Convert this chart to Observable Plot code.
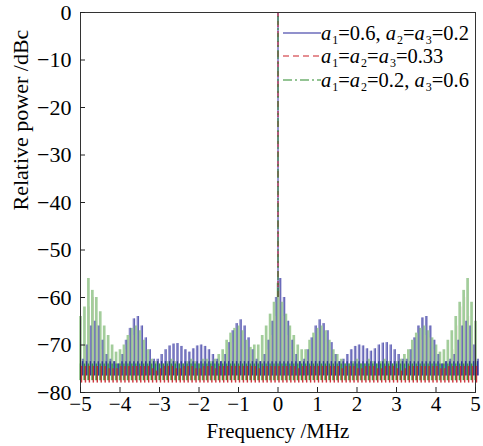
<!DOCTYPE html>
<html>
<head>
<meta charset="utf-8">
<script src="https://cdn.jsdelivr.net/npm/d3@7"></script>
<script src="https://cdn.jsdelivr.net/npm/@observablehq/plot@0.6"></script>
<style>
  html, body { margin: 0; padding: 0; background: #fff; }
  #wrap { position: relative; width: 483px; height: 446px; font-family: "Liberation Serif", serif; }
  #legend { position: absolute; left: 283px; top: 21px; font-family: "Liberation Serif", serif; font-size: 20.5px; line-height: 20px; color: #000; }
  #legend .row { display: flex; align-items: center; height: 23.5px; white-space: nowrap; }
  #legend svg { flex: none; }
  #legend sub { font-size: 12px; vertical-align: -4px; line-height: 0; margin-left: 1px; }
  #legend i { font-style: italic; }
</style>
</head>
<body>
<div id="wrap"></div>
<script>
// Frequency grid (MHz), one spectral line every 0.1 MHz
const freq = d3.range(101).map(i => +(-5 + i * 0.1).toFixed(1));
const yTicks = [0, -10, -20, -30, -40, -50, -60, -70, -80];
const xTicks = [-5, -4, -3, -2, -1, 0, 1, 2, 3, 4, 5];
const seriesNames = ["a1=0.6, a2=a3=0.2", "a1=a2=a3=0.33", "a1=a2=0.2, a3=0.6"];

// Carrier level at 0 MHz (dBc) for each series
const carrier = [0, 0, 0];

// Peak level of each sideband spectral line (dBc)
const blueTop = [
  -73, -70, -66, -65, -66, -69, -72, -73, -73.5, -74,
  -72, -69, -66.5, -64.5, -64, -66, -68.5, -71, -73, -73,
  -72, -71, -70.2, -69.8, -69.7, -70.3, -71, -71.5, -70.8, -70.2,
  -70, -70.3, -71, -72, -73, -73.5, -72, -69.5, -67, -65.5,
  -64.7, -66, -68.5, -71, -73, -73.5, -72, -69, -65, -60,
  -56,
  -60, -65, -69, -72, -73.5, -73, -71, -68.5, -66, -64.7,
  -65.5, -67, -69.5, -72, -73.5, -73, -72, -71, -70.3, -70,
  -70.2, -70.8, -71.3, -70.8, -70, -69.6, -69.5, -70, -71, -72,
  -73, -73, -71, -68.5, -66, -64.3, -64, -66, -69, -72,
  -74, -73.5, -73, -72, -69, -66, -65, -66, -70, -73
];
const redTop = [
  -74, -70, -62, -60, -66, -71, -74, -75, -75, -75,
  -74, -71, -68.5, -68, -69, -71, -73, -74.5, -75, -75.5,
  -75, -74.5, -74, -74.5, -75, -75, -74.5, -74, -74.5, -75,
  -75, -74.5, -74, -74.5, -75, -74.5, -73, -71, -69.5, -68.5,
  -68, -69, -71, -73, -74.5, -75, -73.5, -71, -68, -64,
  -58,
  -64, -68, -71, -73.5, -75, -74.5, -73, -71, -69, -68,
  -68.5, -69.5, -71, -73, -74.5, -75, -74.5, -74, -74.5, -75,
  -75, -74.5, -74, -74.5, -75, -75, -74.5, -74, -74.5, -75,
  -75.5, -75, -74.5, -73, -71, -69, -68, -68.5, -71, -74,
  -75, -75, -74, -71, -66, -62, -60, -64, -70, -74, -74
];
const greenTop = [
  -64, -62, -56, -58.5, -60, -63, -66, -68, -70, -71.5,
  -71, -70, -68, -66.5, -66, -67, -69, -71, -73, -73.5,
  -74, -74, -73.5, -73, -73.5, -74, -74, -73.5, -73, -73.5,
  -74, -73, -73, -73.5, -73, -72, -71, -69, -67.5, -66.5,
  -66, -67, -69, -70.5, -70, -70, -68, -66, -63.5, -61,
  -57,
  -61, -63.5, -66, -68, -70, -71, -71, -69, -67.5, -66.5,
  -66, -67, -69, -71, -72, -73, -74, -74, -73.5, -73,
  -74, -74, -73, -73.5, -74, -73.5, -73, -73.5, -74, -73.5,
  -73, -72, -71, -69, -67.5, -66.5, -66, -67, -68.5, -70,
  -71.5, -71, -69, -67, -64, -61, -58.5, -56, -61, -65, -65
];

// Noise floor of each series (dBc) and top of the dense noise band
const floors = [-76.5, -78, -77.5];
const bandTop = [-73.5, -74.5, -74];

const colorsPale = ["#8a8ac8", "#dba5a5", "#a3cd9b"];
const colorsDark = ["#24249a", "#cc1f26", "#2a8a2a"];
const widthsPale = [2.4, 1.2, 2.7];
const offsets = [2, 1, 0];
const dashes = [null, "6,4", "9,3,2,3"];
const tops = [blueTop, redTop, greenTop];
const order = [0, 1, 2];

const marks = [];
for (const s of order) {
  const rows = freq.map((f, i) => ({f, top: tops[s][i]}));
  marks.push(Plot.ruleX(rows, {x: "f", y1: floors[s], y2: "top", stroke: colorsPale[s], strokeWidth: widthsPale[s], dx: offsets[s], strokeOpacity: s === 1 ? 0.6 : 1}));
}
// thin dark line inside each blue stripe
{
  const rows = freq.map((f, i) => ({f, top: blueTop[i]}));
  marks.push(Plot.ruleX(rows, {x: "f", y1: floors[0], y2: "top", stroke: "#3a3aa6", strokeWidth: 0.7, dx: offsets[0] + 0.8, strokeOpacity: 0.8}));
}
for (const s of [0, 2, 1]) {
  const rows = freq.map((f, i) => ({f, top: tops[s][i]}));
  marks.push(Plot.ruleX(rows, {x: "f", y1: floors[s], y2: d => Math.min(d.top, bandTop[s]), stroke: colorsDark[s], strokeWidth: 1.4, dx: offsets[s], strokeOpacity: 0.85}));
}
// carrier lines at 0 MHz
for (const s of order) {
  marks.push(Plot.ruleX([{f: 0, level: carrier[s]}], {x: "f", y1: -60, y2: "level", stroke: colorsDark[s], strokeWidth: 1, strokeDasharray: dashes[s]}));
}

const fmt = d => d < 0 ? "\u2212" + Math.abs(d) : String(d);
const chart = Plot.plot({
  width: 483,
  height: 446,
  marginLeft: 80,
  marginRight: 8,
  marginTop: 12,
  marginBottom: 54,
  style: {fontFamily: "Liberation Serif, serif", fontSize: "21px", color: "#000", background: "#fff"},
  x: {domain: [-5, 5]},
  y: {domain: [-80, 0]},
  marks: [
    ...marks,
    Plot.frame({stroke: "#333", strokeWidth: 1}),
    Plot.axisX({ticks: xTicks, tickSize: -5, tickPadding: 9, tickFormat: fmt, label: null, fontSize: 21, stroke: "#222", fill: "#000"}),
    Plot.axisY({ticks: yTicks, tickSize: -5, tickPadding: 14, tickFormat: fmt, label: null, fontSize: 22, stroke: "#222", fill: "#000"}),
    Plot.text(["Frequency /MHz"], {frameAnchor: "bottom", dy: 45, fontSize: 21, fill: "#000"}),
    Plot.text(["Relative power /dBc"], {frameAnchor: "left", dx: -60, dy: 8, rotate: -90, fontSize: 22, fill: "#000"})
  ]
});
document.getElementById("wrap").appendChild(chart);

// Legend
const legend = document.createElement("div");
legend.id = "legend";
const labelsHtml = [
  "<i>a</i><sub>1</sub>=0.6, <i>a</i><sub>2</sub>=<i>a</i><sub>3</sub>=0.2",
  "<i>a</i><sub>1</sub>=<i>a</i><sub>2</sub>=<i>a</i><sub>3</sub>=0.33",
  "<i>a</i><sub>1</sub>=<i>a</i><sub>2</sub>=0.2, <i>a</i><sub>3</sub>=0.6"
];
seriesNames.forEach((name, s) => {
  const row = document.createElement("div");
  row.className = "row";
  row.title = name;
  const line = `<svg width="38" height="10"><line x1="0" x2="38" y1="5" y2="5" stroke="${colorsDark[s]}" stroke-width="1.2" ${dashes[s] ? `stroke-dasharray="${dashes[s]}"` : ""}/></svg>`;
  row.innerHTML = line + `<span>${labelsHtml[s]}</span>`;
  legend.appendChild(row);
});
document.getElementById("wrap").appendChild(legend);
</script>
</body>
</html>
